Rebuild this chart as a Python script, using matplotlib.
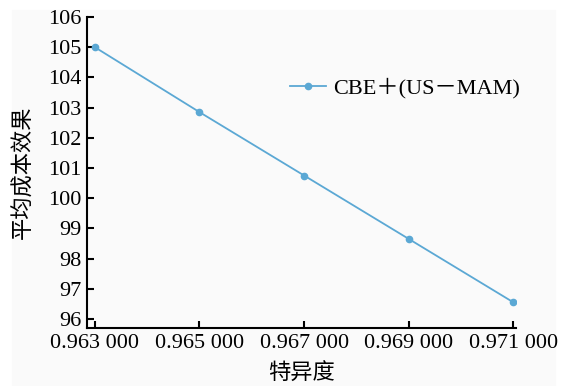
import matplotlib
matplotlib.use("Agg")
import matplotlib.pyplot as plt

# data
specificity = [0.963, 0.965, 0.967, 0.969, 0.971]
avg_ce = [105.0, 102.85, 100.75, 98.65, 96.55]
x_ticks = [0.963, 0.965, 0.967, 0.969, 0.971]
x_tick_labels = ["0.963 000", "0.965 000", "0.967 000", "0.969 000", "0.971 000"]
y_ticks = list(range(96, 107))
series_name = "CBE＋(US－MAM)"

plt.rcParams['font.family'] = ['Liberation Serif', 'Noto Sans CJK SC']

fig = plt.figure(figsize=(5.69, 3.86), dpi=100, facecolor="white")
fig.patches.append(plt.Rectangle((12 / 569, 0.0), 543 / 569, 1 - 10 / 386,
                                 transform=fig.transFigure, color="#fafafa", zorder=-10))
ax = fig.add_axes([87 / 569, 1 - 328 / 386, (516 - 87) / 569, (328 - 17) / 386])
ax.set_facecolor("none")

ax.plot(specificity, avg_ce, color="#5ba8d4", lw=1.3, marker="o", ms=4.5,
        label=series_name)

ax.set_xlim(0.96285, 0.97105)
ax.set_ylim(95.7, 106)
ax.set_xticks(x_ticks)
ax.set_xticklabels(x_tick_labels)
ax.set_yticks(y_ticks)

for s in ["top", "right"]:
    ax.spines[s].set_visible(False)
for s in ["left", "bottom"]:
    ax.spines[s].set_linewidth(1.5)
ax.tick_params(direction="in", length=5, width=1.5, labelsize=16, pad=4)

ax.set_xlabel("特异度", fontsize=16, labelpad=8)
ax.set_ylabel("平均成本效果", fontsize=16, labelpad=10)

ax.legend(loc="center left", bbox_to_anchor=(270 / 569, 1 - 88 / 386),
          bbox_transform=fig.transFigure, frameon=False,
          fontsize=16, handlelength=1.6, handletextpad=0.35)

fig.savefig("out.png", dpi=100, facecolor=fig.get_facecolor())
